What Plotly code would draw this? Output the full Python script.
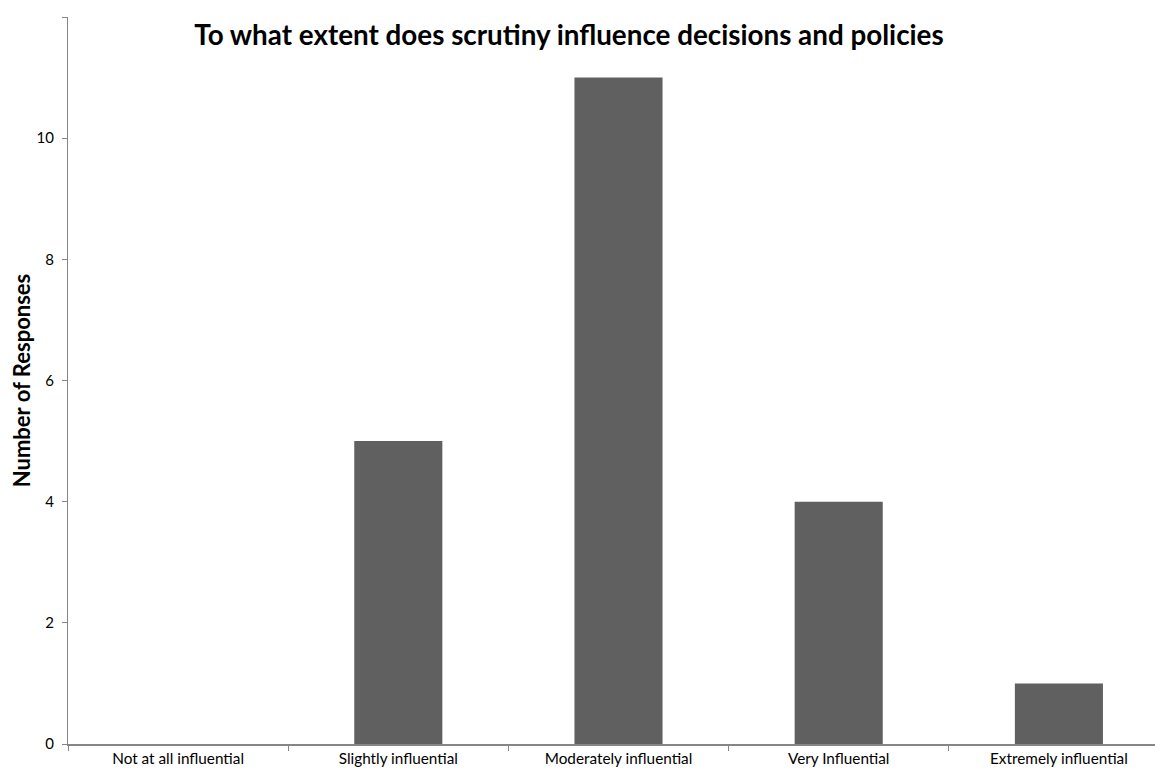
import plotly.graph_objects as go

categories = ["Not at all influential", "Slightly influential", "Moderately influential",
              "Very Influential", "Extremely influential"]
responses = [0, 5, 11, 4, 1]
y_ticks = [0, 2, 4, 6, 8, 10, 12]

FONT = "Lato, Liberation Sans, Arial"

fig = go.Figure(go.Bar(x=categories, y=responses, marker_color="#606060",
                       marker_line_width=0))

# page body has an 8px margin; compensate so the plot sits where the reference is
fig.update_layout(
    width=1161, height=766,
    margin=dict(l=60, r=0, t=9, b=30, autoexpand=False),
    paper_bgcolor="white", plot_bgcolor="white",
    bargap=0.6,
    showlegend=False,
    font=dict(family=FONT, color="#000000", size=15),
    title=dict(text="<b>To what extent does scrutiny influence decisions and policies</b>",
               x=561 / 1161, xanchor="center", xref="container",
               y=1 - 27 / 766, yanchor="middle", yref="container",
               font=dict(size=27.8, family=FONT, color="#000")),
)
fig.update_xaxes(showline=True, linecolor="#868686", linewidth=1.5,
                 ticks="outside", tickson="boundaries", ticklen=5, tickcolor="#868686",
                 showgrid=False, tickfont=dict(size=15.3), automargin=False)
fig.update_yaxes(range=[0, 12], tickvals=y_ticks, showline=True, linecolor="#868686",
                 linewidth=1, ticks="outside", ticklen=5, tickcolor="#868686",
                 showgrid=False, zeroline=False, tickfont=dict(size=15), automargin=False,
                 ticklabelstandoff=5,
                 title=dict(text="<b>Number of Responses</b>", font=dict(size=22), standoff=18))

fig.write_html("out.html")
